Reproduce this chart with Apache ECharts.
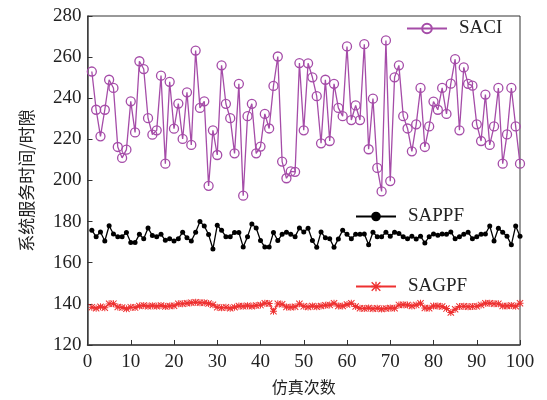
<!DOCTYPE html>
<html>
<head>
<meta charset="utf-8">
<script src="https://cdn.jsdelivr.net/npm/echarts@6/dist/echarts.min.js"></script>
<style>
html, body { margin: 0; padding: 0; background: #fff; }
#main { width: 547px; height: 400px; }
</style>
</head>
<body>
<div id="main"></div>
<script>
// 仿真次数 1..100
var runs = [];
for (var i = 1; i <= 100; i++) runs.push(i);

var saci = [253, 234.4, 221.5, 234.4, 249, 245, 216.3, 211, 215, 238.5,
	223.4, 258, 254.2, 230.3, 222.3, 224.4, 251, 208.2, 248, 225.2,
	237.4, 220.2, 242.9, 217.3, 263.2, 235.3, 238.5, 197.4, 224.4, 212.4,
	256, 237.3, 230.3, 213.2, 247, 192.6, 231.3, 237.3, 213.2, 216.5,
	232.4, 225.3, 246, 260.3, 209.2, 201.1, 204.4, 204.2, 257.1, 224.4,
	257, 250.2, 241, 218.1, 249, 219.2, 247, 235.3, 231.3, 265.2,
	229.4, 236.5, 229.4, 266.3, 215.2, 239.8, 206.1, 194.7, 268.1, 199.7,
	250.2, 256, 231.3, 225.3, 214.2, 227.3, 245, 216.3, 226.3, 238.4,
	234.4, 245, 232.4, 247.1, 259, 224.4, 255, 247, 246.1, 227.3,
	219.2, 241.8, 217.3, 226.3, 245, 208.2, 222.4, 245, 226.3, 208.2];

var sappf = [175.8, 172.7, 175, 170.6, 178, 174, 172.7, 172.7, 174.7, 169.8,
	169.8, 173.8, 171.7, 176.9, 173.2, 172.7, 173.8, 170.9, 171.7, 170.6,
	171.7, 174.8, 172.1, 170.6, 174.8, 180, 177.9, 173.7, 166.7, 178.2,
	175.8, 172.7, 172.7, 174.7, 174.7, 167.7, 172.7, 178.9, 176.9, 170.8,
	167.7, 167.7, 174.7, 170.8, 173.8, 174.8, 173.8, 172.7, 176.9, 175,
	176.8, 170.8, 167.5, 175, 172.1, 171.7, 167.5, 171.6, 175.8, 173.8,
	171.7, 173.8, 173.8, 174, 168.8, 174.8, 172.7, 172.7, 174.8, 172.9,
	174.8, 174.2, 172.7, 171.7, 172.9, 171.6, 172.9, 169.6, 172.7, 174,
	173.4, 174, 173.8, 175, 171.7, 172.7, 173.8, 174.8, 171.7, 172.7,
	173.8, 174, 177.9, 170.6, 176.8, 174.8, 172.9, 168.7, 177.9, 172.9];

var sagpf = [138.4, 137.9, 138.6, 138.1, 140, 140.1, 138.5, 138.2, 137.6, 138.4,
	138.2, 139, 139.2, 138.8, 139.1, 138.9, 139.2, 138.7, 139, 139.1,
	140, 140, 140.3, 140.6, 140.8, 140.6, 140.5, 140.2, 139.6, 138.4,
	138.1, 138.3, 137.9, 138.4, 139, 138.8, 139.1, 138.9, 139.2, 139.4,
	140.3, 140.2, 136.4, 140, 139.8, 138.5, 138.4, 138.6, 140, 138.8,
	138.5, 139, 138.6, 139, 139.3, 139.5, 140.3, 139, 139, 139.7,
	140.3, 138.7, 137.9, 137.8, 138, 137.6, 137.9, 137.5, 137.8, 138,
	137.9, 139.5, 139.6, 139.4, 139, 139.5, 140.3, 138, 137.9, 139,
	139, 138.7, 137.7, 135.8, 137.4, 138.7, 138.8, 138.6, 138.7, 138.8,
	139.5, 140.3, 140.3, 140, 140, 139, 139, 139.2, 138.9, 140.3];

// 刻度
var yTicks = [120, 140, 160, 180, 200, 220, 240, 260, 280];
var xTicks = [0, 10, 20, 30, 40, 50, 60, 70, 80, 90, 100];

function toPairs(vals) {
	var arr = [];
	for (var k = 0; k < vals.length; k++) {
		arr.push([runs[k], vals[k]]);
	}
	return arr;
}

var serifFont = '"Liberation Serif", "DejaVu Serif", serif';
var cjkFont = '"Noto Sans CJK SC", sans-serif';
// 星形标记 (*)
var starPath = 'path://M0,4.3h10v1.4h-10z M4.3,0h1.4v10h-1.4z M1,0L10,9L9,10L0,1Z M9,0L10,1L1,10L0,9Z';

function legendAt(name, left, top) {
	return {
		data: [name],
		left: left,
		top: top,
		padding: 0,
		itemWidth: 40,
		itemHeight: 12,
		textStyle: {
			fontFamily: serifFont,
			fontSize: 19,
			color: '#222',
			padding: [0, 0, 0, 7]
		}
	};
}

var myChart = echarts.init(document.getElementById('main'));
var option = {
	animation: false,
	backgroundColor: '#fff',
	grid: {
		left: 87.5,
		right: 27,
		top: 16,
		bottom: 55,
		show: true,
		borderColor: '#333',
		borderWidth: 1
	},
	legend: [
		legendAt('SACI', 406, 19),
		legendAt('SAPPF', 355, 207),
		legendAt('SAGPF', 355, 277)
	],
	xAxis: {
		type: 'value',
		min: 0,
		max: 100,
		interval: 10,
		name: '仿真次数',
		nameLocation: 'middle',
		nameGap: 34,
		nameTextStyle: { fontFamily: cjkFont, fontSize: 16, color: '#222' },
		axisLine: { lineStyle: { color: '#444', width: 1.5 } },
		axisTick: { inside: true, length: 5, lineStyle: { color: '#333' } },
		axisLabel: {
			margin: 8,
			fontFamily: serifFont,
			fontSize: 19,
			color: '#222',
			customValues: xTicks
		},
		splitLine: { show: false }
	},
	yAxis: {
		type: 'value',
		min: 120,
		max: 280,
		interval: 20,
		name: '系统服务时间/时隙',
		nameLocation: 'middle',
		nameGap: 52,
		nameTextStyle: { fontFamily: cjkFont, fontSize: 17, color: '#222' },
		axisLine: { show: true, lineStyle: { color: '#444', width: 1.5 } },
		axisTick: { show: true, inside: true, length: 5, lineStyle: { color: '#333' } },
		axisLabel: {
			margin: 6,
			fontFamily: serifFont,
			fontSize: 19,
			color: '#222',
			customValues: yTicks
		},
		splitLine: { show: false }
	},
	series: [
		{
			name: 'SACI',
			type: 'line',
			data: toPairs(saci),
			symbol: 'circle',
			symbolSize: 9,
			color: '#a54ca8',
			lineStyle: { width: 1.3, color: '#a54ca8' },
			itemStyle: { borderWidth: 1.3, color: 'rgba(255,255,255,0)', borderColor: '#a54ca8' }
		},
		{
			name: 'SAPPF',
			type: 'line',
			data: toPairs(sappf),
			symbol: 'circle',
			symbolSize: 5,
			color: '#000',
			lineStyle: { width: 1.3, color: '#000' },
			itemStyle: { color: '#000' }
		},
		{
			name: 'SAGPF',
			type: 'line',
			data: toPairs(sagpf),
			symbol: starPath,
			symbolSize: 7,
			color: '#ee3030',
			lineStyle: { width: 1.3, color: '#ee3030' },
			itemStyle: { color: '#ee3030' }
		}
	]
};
myChart.setOption(option);
</script>
</body>
</html>
